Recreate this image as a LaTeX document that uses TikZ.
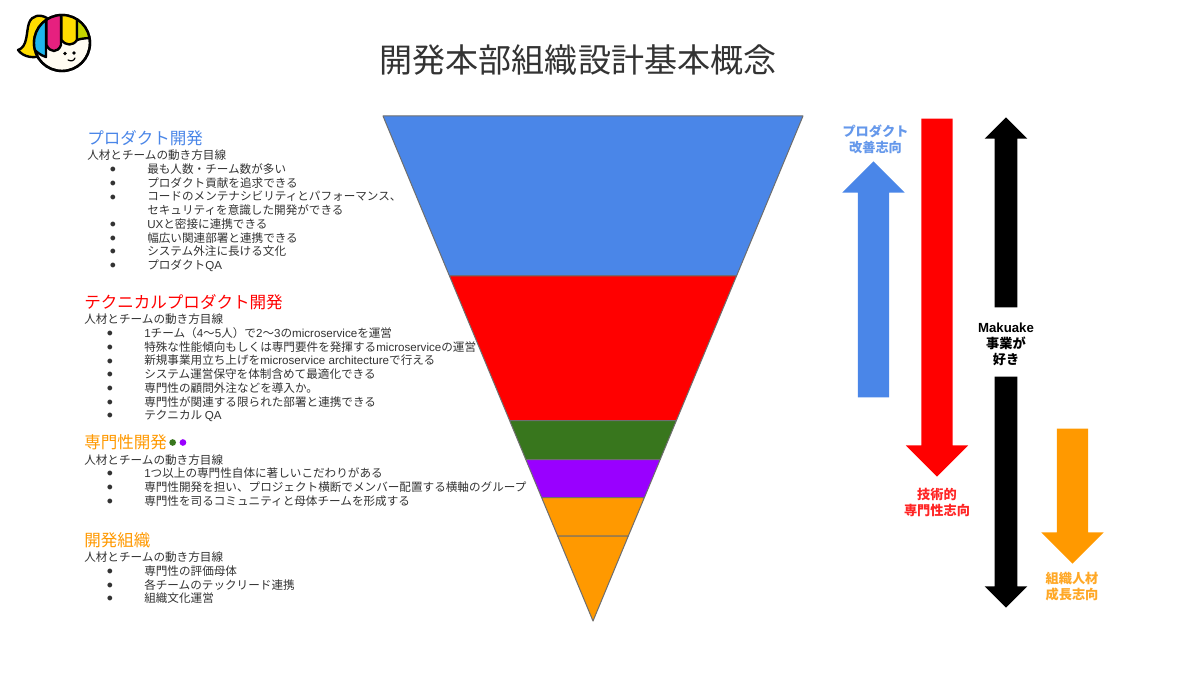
\documentclass[tikz,border=0pt]{standalone}
\usepackage{fontspec}
\setmainfont{Noto Sans CJK JP}
\newfontfamily\latfont{Liberation Sans}
\newcommand{\lat}[1]{{\latfont #1}}
\newcommand{\bul}{\hspace*{17pt}\makebox[28pt][l]{\raisebox{0.6pt}{$\bullet$}}}
\newcommand{\cont}{\hspace*{45pt}}
\definecolor{pblue}{HTML}{4A86E8}
\definecolor{pred}{HTML}{FF0000}
\definecolor{pgreen}{HTML}{38761D}
\definecolor{ppurple}{HTML}{9900FF}
\definecolor{porange}{HTML}{FF9900}
\definecolor{ink}{HTML}{333333}
\definecolor{edge}{HTML}{6E6E6E}
\definecolor{logocyan}{HTML}{1FB6EC}
\definecolor{logopink}{HTML}{E6207F}
\definecolor{logoyellow}{HTML}{FFDD00}
\definecolor{logolime}{HTML}{C5D600}
\definecolor{logoface}{HTML}{FFFCF2}
\usetikzlibrary{positioning,shapes.arrows}
\tikzset{
  band/.style={draw=edge,line width=0.75pt,line join=round},
  head/.style={font=\fontsize{12.4}{14}\selectfont,inner sep=0pt,anchor=west},
  body/.style={font=\fontsize{8.7}{10.3}\selectfont,text=ink,inner sep=0pt,align=left,anchor=north west},
  arrlab/.style={font=\fontsize{9.9}{12}\selectfont\bfseries,inner sep=0pt,align=center},
  bigarr/.style={single arrow,anchor=tip,inner sep=11.6pt,minimum width=46.5pt,single arrow head extend=11.6pt,single arrow tip angle=90},
  blackarr/.style={single arrow,anchor=tip,fill=black,inner sep=8.25pt,minimum width=31.5pt,single arrow head extend=7.5pt,single arrow tip angle=90},
  dot/.style={circle,inner sep=0pt,minimum size=5pt},
  logoline/.style={draw=black,line width=1.8pt,line join=round},
}
\begin{document}
\begin{tikzpicture}[x=0.75pt,y=-0.75pt]
\useasboundingbox (0,0) rectangle (1200,677);
\fill[white] (0,0) rectangle (1200,677);

\draw[logoline,fill=logoyellow] (47,18) .. controls (40,14) and (32,15) .. (29,23) .. controls (26,32) and (28,47) .. (18,50) .. controls (24,58) and (34,58) .. (42,56) -- cycle;
\draw[logoline,fill=logoface] (62,43) circle (28);
\begin{scope}
\clip (62,43) circle (28);
\draw[logoline,fill=logocyan] (30,12) -- (46,12) -- (46,57) .. controls (40,55) and (36,52) .. (30,45) -- cycle;
\draw[logoline,fill=logopink] (46.5,12) -- (61,12) -- (61,45) .. controls (58,53) and (50,53) .. (46.5,45) -- cycle;
\draw[logoline,fill=logoyellow] (61.5,12) -- (77,12) -- (77,40) .. controls (73,46) and (66,46) .. (61.5,40) -- cycle;
\draw[logoline,fill=logolime] (77,12) -- (95,12) -- (95,38) .. controls (90,38) and (82,38) .. (77,40) -- cycle;
\end{scope}
\draw[logoline,fill=none] (62,43) circle (28);
\fill (65,53.5) circle (1.8); \fill (74,53) circle (1.8);
\draw[line width=0.9pt,line cap=round] (68,60) .. controls (71,61.5) and (74,61) .. (75,58);

\node[font=\fontsize{24.8}{28}\selectfont,text=ink,inner sep=0pt] (title) at (578,60) {開発本部組織設計基本概念};

\draw[band,fill=pblue] (383,116) -- (803,116) -- (736.5,276) -- (449.5,276) -- cycle;
\draw[band,fill=pred] (449.5,276) -- (736.5,276) -- (676.4,420.5) -- (509.6,420.5) -- cycle;
\draw[band,fill=pgreen] (509.6,420.5) -- (676.4,420.5) -- (660.2,459.5) -- (525.8,459.5) -- cycle;
\draw[band,fill=ppurple] (525.8,459.5) -- (660.2,459.5) -- (644.4,497.5) -- (541.6,497.5) -- cycle;
\draw[band,fill=porange] (541.6,497.5) -- (644.4,497.5) -- (628.3,536) -- (557.7,536) -- cycle;
\draw[band,fill=porange] (557.7,536) -- (628.3,536) -- (593,621) -- cycle;

\node[head,text=pblue] (prodhead) at (87,138) {プロダクト開発};
\node[body,below=2.7pt of prodhead.south west,anchor=north west] (prodbody) {人材とチームの動き方目線\\
\bul 最も人数・チーム数が多い\\
\bul プロダクト貢献を追求できる\\
\bul コードのメンテナシビリティとパフォーマンス、\\
\cont セキュリティを意識した開発ができる\\
\bul \lat{UX}と密接に連携できる\\
\bul 幅広い関連部署と連携できる\\
\bul システム外注に長ける文化\\
\bul プロダクト\lat{QA}};

\node[head,text=pred] (techhead) at (84,302) {テクニカルプロダクト開発};
\node[body,below=2.7pt of techhead.south west,anchor=north west] (techbody) {人材とチームの動き方目線\\
\bul \lat{1}チーム（\lat{4}〜\lat{5}人）で\lat{2}〜\lat{3}の\lat{microservice}を運営\\
\bul 特殊な性能傾向もしくは専門要件を発揮する\lat{microservice}の運営\\
\bul 新規事業用立ち上げを\lat{microservice architecture}で行える\\
\bul システム運営保守を体制含めて最適化できる\\
\bul 専門性の顧問外注などを導入か。\\
\bul 専門性が関連する限られた部署と連携できる\\
\bul テクニカル \lat{QA}};

\node[head,text=porange] (spechead) at (84,442.5) {専門性開発};
\node[dot,fill=pgreen,right=1.4pt of spechead] (specdota) {};
\node[dot,fill=ppurple,right=2.3pt of specdota] (specdotb) {};
\node[body,below=2.7pt of spechead.south west,anchor=north west] (specbody) {人材とチームの動き方目線\\
\bul \lat{1}つ以上の専門性自体に著しいこだわりがある\\
\bul 専門性開発を担い、プロジェクト横断でメンバー配置する横軸のグループ\\
\bul 専門性を司るコミュニティと母体チームを形成する};

\node[head,text=porange] (orghead) at (84,540) {開発組織};
\node[body,below=2.7pt of orghead.south west,anchor=north west] (orgbody) {人材とチームの動き方目線\\
\bul 専門性の評価母体\\
\bul 各チームのテックリード連携\\
\bul 組織文化運営};

\node[bigarr,fill=pblue,shape border rotate=90,minimum height=177pt] (prodarrow) at (873.5,161) {};
\node[bigarr,fill=pred,shape border rotate=270,minimum height=268.5pt] (techarrow) at (937,477) {};
\node[bigarr,fill=porange,shape border rotate=270,minimum height=101.25pt] (orgarrow) at (1072.5,564) {};
\node[blackarr,shape border rotate=90,minimum height=142.5pt] (mkup) at (1006,117) {};
\node[blackarr,shape border rotate=270,minimum height=173.25pt] (mkdown) at (1006,608) {};

\node[arrlab,text=pblue!85!white] (prodlab) at (875.5,139.5) {プロダクト\\改善志向};
\node[arrlab,text=pred!85!white] (techlab) at (937,502) {技術的\\専門性志向};
\node[arrlab,text=porange!85!white] (orglab) at (1072,587) {組織人材\\成長志向};
\node[arrlab,text=black] (mklab) at (1006,344) {\lat{Makuake}\\事業が\\好き};
\end{tikzpicture}
\end{document}
